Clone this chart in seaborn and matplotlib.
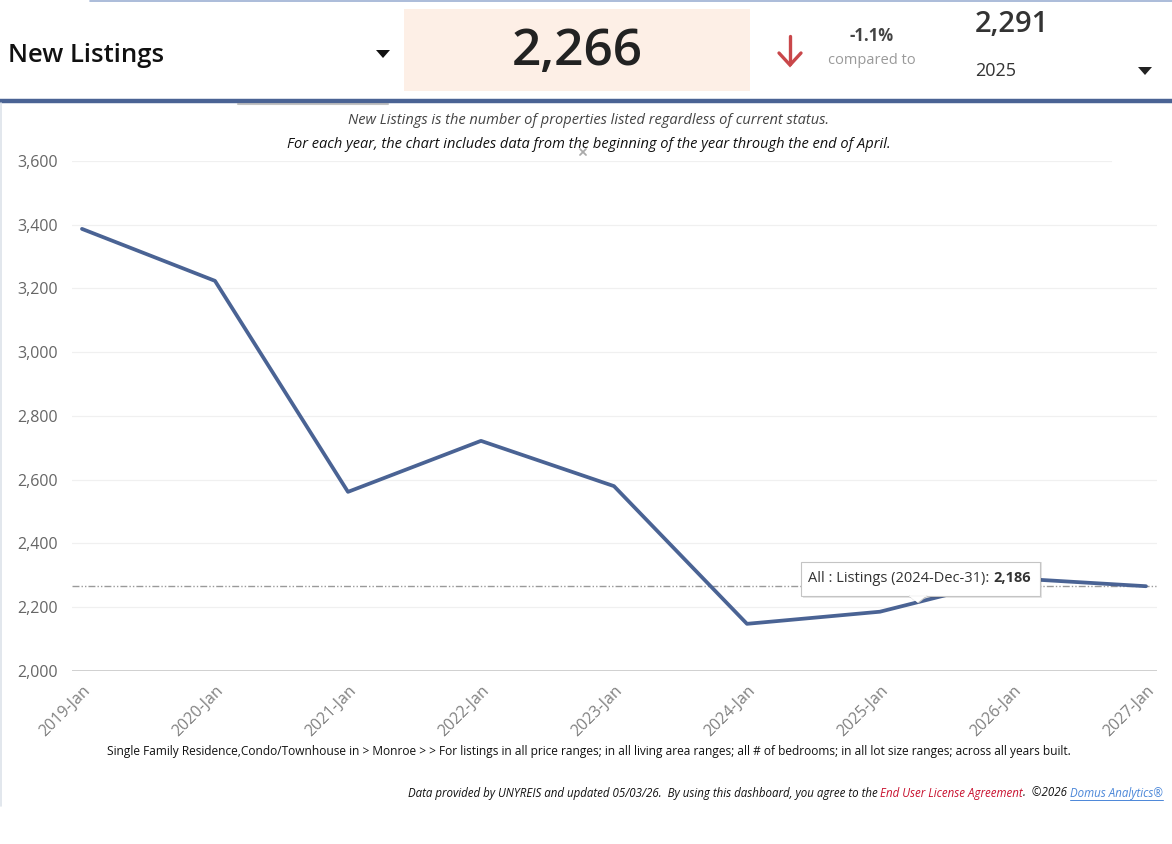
import pandas as pd
import matplotlib
matplotlib.use("Agg")
import matplotlib.pyplot as plt
import seaborn as sns
from matplotlib.lines import Line2D
from matplotlib.patches import Rectangle, Polygon

# data
periods = ["2019-Jan", "2020-Jan", "2021-Jan", "2022-Jan", "2023-Jan",
           "2024-Jan", "2025-Jan", "2026-Jan", "2027-Jan"]
listings = [3387, 3224, 2562, 2722, 2580, 2148, 2186, 2291, 2266]
y_ticks = [2000, 2200, 2400, 2600, 2800, 3000, 3200, 3400, 3600]
current_value = 2266
compare_value = 2291
compare_year = "2025"
pct_change = "-1.1%"

df = pd.DataFrame({"period": periods, "listings": listings})

W, H = 1172, 844
BLUE = "#4A6394"

sns.set_theme(style="white")
plt.rcParams["font.family"] = ["Open Sans", "DejaVu Sans"]

fig = plt.figure(figsize=(W / 100, H / 100), dpi=100)


def fx(x):
    return x / W


def fy(y):
    return 1 - y / H


# -------- chart area --------
ax = fig.add_axes([fx(72), fy(671), fx(1157) - fx(72), fy(161) - fy(671)])
for v in y_ticks[1:-1]:
    ax.axhline(v, color="#f0f0f0", lw=0.9, zorder=0)
ax.axhline(y_ticks[-1], xmax=(1111 - 72) / 1085, color="#f0f0f0", lw=0.9, zorder=0)
ax.axhline(y_ticks[0], color="#c8c8c8", lw=1.2, zorder=0)
ax.axhline(current_value, color="#9a9a9a", lw=1.0,
           linestyle=(0, (5, 1.5, 1, 1.5, 1, 1.5)), zorder=1)

sns.lineplot(data=df, x="period", y="listings", ax=ax, color=BLUE,
             linewidth=2.7, sort=False, zorder=3)

ax.set_xlim(-0.075, 8.083)
ax.set_ylim(y_ticks[0], y_ticks[-1])
ax.set_yticks(y_ticks)
ax.set_yticklabels([f"{v:,}" for v in y_ticks])
ax.set_xticks(range(len(periods)))
ax.set_xticklabels(periods, rotation=45, ha="right", rotation_mode="anchor")
ax.tick_params(axis="y", colors="#666666", labelsize=11.5, length=0, pad=10)
ax.tick_params(axis="x", colors="#808080", labelsize=11.5, length=0, pad=8)
ax.set_xlabel("")
ax.set_ylabel("")
for s in ax.spines.values():
    s.set_visible(False)

# -------- tooltip (figure pixels) --------
fig.add_artist(Rectangle((fx(803), fy(598)), fx(1042) - fx(803), fy(562) - fy(598),
                         facecolor="#000000", alpha=0.10, edgecolor="none", zorder=9))
fig.add_artist(Polygon([[fx(908), fy(596)], [fx(928), fy(596)], [fx(918), fy(604)]],
                       closed=True, facecolor="#000000", alpha=0.10, edgecolor="none", zorder=9))
fig.add_artist(Rectangle((fx(801), fy(596)), fx(1040) - fx(801), fy(562) - fy(596),
                         facecolor="white", edgecolor="#c4c4c4", lw=0.8, zorder=10))
fig.add_artist(Polygon([[fx(909), fy(596)], [fx(927), fy(596)], [fx(918), fy(603)]],
                       closed=False, facecolor="white", edgecolor="#c4c4c4", lw=0.8, zorder=10))
fig.add_artist(Line2D([fx(910), fx(926)], [fy(596), fy(596)], color="white", lw=1.2, zorder=11))
t1 = fig.text(fx(808), fy(578), "All : Listings (2024-Dec-31): ", fontsize=10.5,
              color="#333333", va="center", ha="left", zorder=12)
fig.canvas.draw()
r = fig.canvas.get_renderer()
bb = t1.get_window_extent(r)
fig.text(bb.x1 / W, fy(578), f"{listings[6]:,}", fontsize=10.5, fontweight="bold",
         color="#333333", va="center", ha="left", zorder=12)

# -------- header --------
fig.add_artist(Line2D([fx(90), 1], [fy(1), fy(1)], color="#9DB0D3", lw=1.2))
fig.add_artist(Rectangle((fx(404), fy(91)), fx(750) - fx(404), fy(9) - fy(91),
                         facecolor="#FDEFE6", edgecolor="none"))
fig.text(fx(8), fy(55), "New Listings", fontsize=18.5, color="#111111",
         fontweight="semibold", va="center", ha="left")
fig.add_artist(Polygon([[fx(376), fy(50)], [fx(390), fy(50)], [fx(383), fy(58)]],
                       closed=True, facecolor="#111111", edgecolor="none"))
fig.text(fx(577), fy(52), f"{current_value:,}", fontsize=37, color="#222222",
         fontweight="semibold", va="center", ha="center")
# red down arrow
red = "#C9474A"
fig.add_artist(Line2D([fx(790), fx(790)], [fy(36), fy(64)], color=red, lw=2.4,
                      solid_capstyle="round"))
fig.add_artist(Line2D([fx(779), fx(790), fx(801)], [fy(53), fy(65), fy(53)],
                      color=red, lw=2.4, solid_capstyle="round", solid_joinstyle="miter"))
fig.text(fx(872), fy(36), pct_change, fontsize=12, color="#444444",
         fontweight="bold", va="center", ha="center")
fig.text(fx(872), fy(61), "compared to", fontsize=10.5, color="#9a9a9a",
         va="center", ha="center")
fig.text(fx(1012), fy(25), f"{compare_value:,}", fontsize=21, color="#333333",
         fontweight="semibold", va="center", ha="center")
fig.text(fx(975), fy(71), compare_year, fontsize=13, color="#333333",
         va="center", ha="left")
fig.add_artist(Polygon([[fx(1138), fy(67)], [fx(1152), fy(67)], [fx(1145), fy(75)]],
                       closed=True, facecolor="#222222", edgecolor="none"))

# blue divider bar + tab shadow
fig.add_artist(Line2D([0, 1], [fy(101), fy(101)], color=BLUE, lw=3.2))
fig.add_artist(Line2D([fx(238), fx(388)], [fy(104), fy(104)], color="#9a9a9a",
                      lw=1.5, alpha=0.6))
fig.add_artist(Line2D([fx(0.5), fx(0.5)], [fy(103), fy(806)], color="#dde3ea", lw=1.2))

# subtitle
fig.text(fx(589), fy(121), "New Listings is the number of properties listed regardless of current status.",
         fontsize=10.5, style="italic", color="#444444", ha="center", va="center")
fig.text(fx(589), fy(145), "For each year, the chart includes data from the beginning of the year through the end of April.",
         fontsize=10.5, style="italic", color="#111111", ha="center", va="center")
# small close mark
fig.add_artist(Line2D([fx(580), fx(586)], [fy(149), fy(155)], color="#aaaaaa", lw=1.3))
fig.add_artist(Line2D([fx(580), fx(586)], [fy(155), fy(149)], color="#aaaaaa", lw=1.3))

# -------- footer --------
fig.text(fx(589), fy(751), "Single Family Residence,Condo/Townhouse in > Monroe > > For listings in all price ranges; "
         "in all living area ranges; all # of bedrooms; in all lot size ranges; across all years built.",
         fontsize=8.55, color="#111111", ha="center", va="center")

pieces = [
    ("Data provided by UNYREIS and updated 05/03/26.  By using this dashboard, you agree to the ", "#111111", False),
    ("End User License Agreement", "#C8102E", False),
    (".  \u00a92026 ", "#111111", False),
    ("Domus Analytics\u00ae", "#4A86D8", True),
]
x_right = 1163
fig.canvas.draw()
r = fig.canvas.get_renderer()
for txt, col, under in reversed(pieces):
    t = fig.text(fx(x_right), fy(793), txt, fontsize=8.3, style="italic", color=col,
                 ha="right", va="center")
    ext = t.get_window_extent(r)
    if under:
        fig.add_artist(Line2D([ext.x0 / W, ext.x1 / W], [fy(800), fy(800)], color=col, lw=0.7))
    x_right = ext.x0

fig.savefig("out.png", dpi=100, facecolor="white")
